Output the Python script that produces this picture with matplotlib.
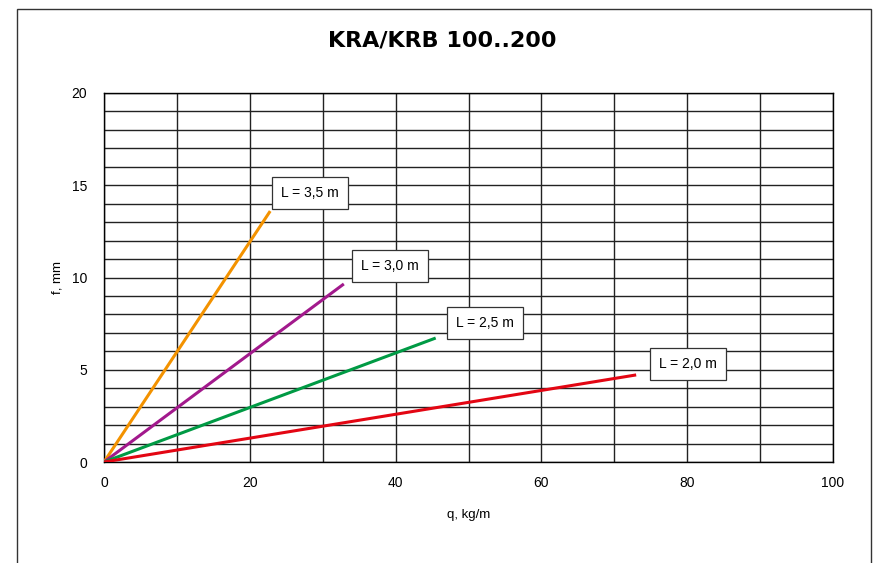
import matplotlib.pyplot as plt
from matplotlib.patches import Rectangle

# Data (end points of each straight line from the origin)
labels = ["L = 3,5 m", "L = 3,0 m", "L = 2,5 m", "L = 2,0 m"]
q_end = [22.8, 32.9, 45.5, 73.0]
f_end = [13.6, 9.65, 6.72, 4.72]
colors = ["#f39200", "#a2198c", "#009a44", "#e30613"]

# label box centres (data coords)
label_q = [28.3, 39.2, 52.3, 80.1]
label_f = [14.6, 10.6, 7.55, 5.3]

plt.rcParams['font.family'] = ['Liberation Sans', 'DejaVu Sans']

fig = plt.figure(figsize=(8.84, 5.63), dpi=100)
ax = fig.add_axes([104 / 884, 1 - 462 / 563, 729 / 884, 369 / 563])

# outer frame
fig.patches.append(Rectangle((17 / 884, -0.05), 854 / 884, 1.05 - 9 / 563,
                             transform=fig.transFigure, fill=False,
                             edgecolor='#333333', linewidth=1.0))

for i in range(len(labels)):
    ax.plot([0, q_end[i]], [0, f_end[i]], color=colors[i], linewidth=2.2,
            solid_capstyle='butt', zorder=3)
    ax.text(label_q[i], label_f[i], labels[i], ha='center', va='center',
            fontsize=10, zorder=4,
            bbox=dict(boxstyle='square,pad=0.65', facecolor='white',
                      edgecolor='#333333', linewidth=0.9))

ax.set_xlim(0, 100)
ax.set_ylim(0, 20)
ax.set_xticks(range(0, 101, 20))
ax.set_yticks(range(0, 21, 5))
ax.set_xticks(range(0, 101, 10), minor=True)
ax.set_yticks(range(0, 21, 1), minor=True)
ax.grid(True, which='both', color='#222222', linewidth=1.0)
ax.tick_params(which='both', length=0, labelsize=10, pad=10)
ax.tick_params(axis='y', pad=12)
for s in ax.spines.values():
    s.set_color('black')
    s.set_linewidth(1.0)

ax.set_xlabel("q, kg/m", fontsize=9.5, labelpad=14)
ax.set_ylabel("f, mm", fontsize=9.5, labelpad=6)

fig.text(0.5, 1 - 41 / 563, "KRA/KRB 100..200", ha='center', va='center',
         fontsize=16, fontweight='bold', family='DejaVu Sans')

plt.savefig("out.png", dpi=100)
